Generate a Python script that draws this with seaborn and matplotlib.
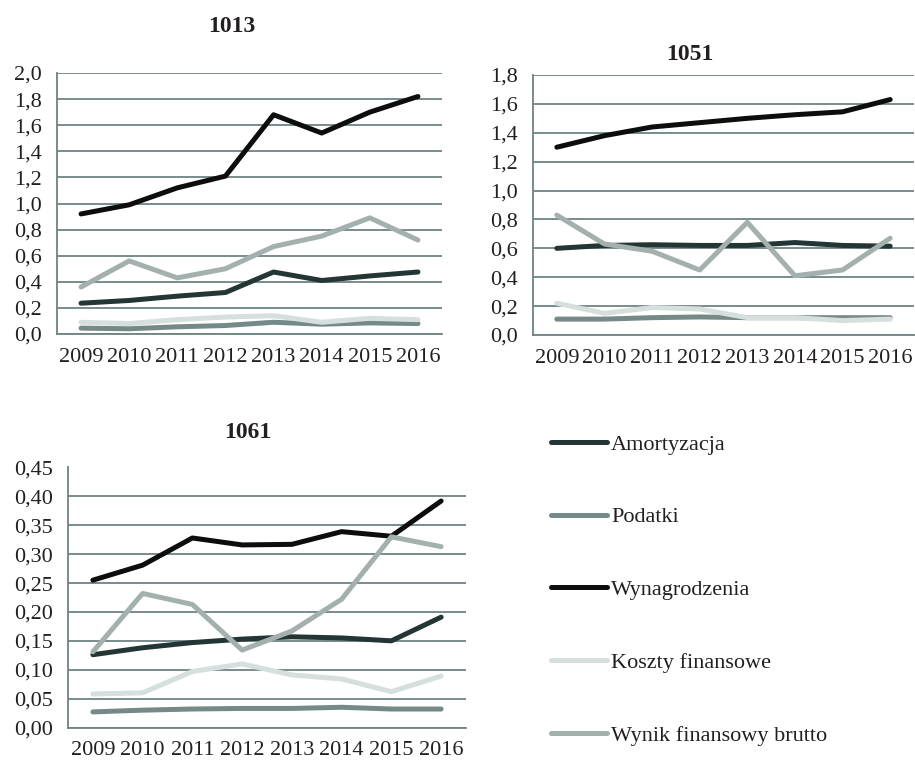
import numpy as np
import pandas as pd
import matplotlib
matplotlib.use('Agg')
import matplotlib.pyplot as plt
import seaborn as sns

# dane
years = ['2009', '2010', '2011', '2012', '2013', '2014', '2015', '2016']
series = ['Amortyzacja', 'Podatki', 'Wynagrodzenia', 'Koszty finansowe', 'Wynik finansowy brutto']
colors = ['#243535', '#758a88', '#0d0d0d', '#d5dfdd', '#a4b0ae']

d1013 = {
    'Amortyzacja': [0.236, 0.257, 0.29, 0.318, 0.475, 0.41, 0.445, 0.475],
    'Podatki': [0.045, 0.04, 0.055, 0.065, 0.09, 0.075, 0.085, 0.08],
    'Wynagrodzenia': [0.92, 0.99, 1.12, 1.21, 1.68, 1.54, 1.70, 1.82],
    'Koszty finansowe': [0.09, 0.08, 0.11, 0.13, 0.14, 0.09, 0.12, 0.11],
    'Wynik finansowy brutto': [0.36, 0.56, 0.43, 0.50, 0.67, 0.75, 0.89, 0.72],
}
d1051 = {
    'Amortyzacja': [0.60, 0.62, 0.625, 0.62, 0.62, 0.64, 0.62, 0.615],
    'Podatki': [0.11, 0.11, 0.12, 0.125, 0.12, 0.12, 0.12, 0.12],
    'Wynagrodzenia': [1.30, 1.38, 1.44, 1.47, 1.50, 1.525, 1.545, 1.63],
    'Koszty finansowe': [0.22, 0.15, 0.19, 0.18, 0.12, 0.12, 0.10, 0.11],
    'Wynik finansowy brutto': [0.83, 0.63, 0.58, 0.45, 0.78, 0.41, 0.45, 0.67],
}
d1061 = {
    'Amortyzacja': [0.126, 0.138, 0.147, 0.153, 0.157, 0.155, 0.150, 0.191],
    'Podatki': [0.027, 0.030, 0.032, 0.033, 0.033, 0.035, 0.032, 0.032],
    'Wynagrodzenia': [0.255, 0.281, 0.328, 0.316, 0.317, 0.339, 0.331, 0.392],
    'Koszty finansowe': [0.058, 0.060, 0.097, 0.110, 0.091, 0.084, 0.062, 0.089],
    'Wynik finansowy brutto': [0.131, 0.232, 0.213, 0.134, 0.167, 0.222, 0.330, 0.313],
}

sns.set_style('white')
plt.rcParams['font.family'] = ['Liberation Serif', 'DejaVu Serif']
grid_c = '#6e8482'
txt_c = '#231f20'
lw = 3.6
fs = 16


def to_long(d):
    rows = []
    for s in series:
        for i, v in enumerate(d[s]):
            rows.append({'x': i, 'y': v, 'seria': s})
    return pd.DataFrame(rows)


def panel(rect, d, ymax, step, fmt, title, title_xy):
    ax = fig.add_axes(rect)
    df = to_long(d)
    sns.lineplot(data=df, x='x', y='y', hue='seria', hue_order=series,
                 palette=colors, linewidth=lw, legend=False, ax=ax,
                 solid_capstyle='round', solid_joinstyle='round')
    ax.set_xlim(-0.5, 7.5)
    ax.set_ylim(0, ymax)
    yt = np.arange(0, ymax + step / 2, step)
    ax.set_yticks(yt)
    ax.set_yticklabels([fmt.format(v).replace('.', ',') for v in yt])
    ax.set_xticks(range(8))
    ax.set_xticklabels(years)
    ax.set_xticks(np.arange(-0.5, 8, 1), minor=True)
    ax.tick_params(axis='x', which='major', length=0, pad=10, labelsize=fs, colors=txt_c)
    ax.tick_params(axis='x', which='minor', length=5, width=1.3, color=grid_c, direction='out')
    ax.tick_params(axis='y', length=5, width=1.3, color=grid_c, labelsize=fs, labelcolor=txt_c, pad=6)
    ax.grid(axis='y', color=grid_c, linewidth=1.3)
    ax.set_axisbelow(True)
    for s in ['top', 'right']:
        ax.spines[s].set_visible(False)
    for s in ['left', 'bottom']:
        ax.spines[s].set_color(grid_c)
        ax.spines[s].set_linewidth(1.3)
    ax.set_xlabel('')
    ax.set_ylabel('')
    fig.text(title_xy[0] / 915, 1 - title_xy[1] / 763, title, ha='center', va='center',
             fontsize=17, fontweight='bold', color=txt_c)
    return ax


fig = plt.figure(figsize=(9.15, 7.63), dpi=100)

panel([57 / 915, 1 - 334 / 763, 385 / 915, 261 / 763], d1013, 2.0, 0.2, '{:.1f}', '1013', (232, 26))
panel([533 / 915, 1 - 335 / 763, 381 / 915, 260 / 763], d1051, 1.8, 0.2, '{:.1f}', '1051', (690, 55))
panel([68 / 915, 1 - 727.5 / 763, 398 / 915, 260 / 763], d1061, 0.45, 0.05, '{:.2f}', '1061', (248, 432))

handles = [plt.Line2D([], [], color=c, linewidth=lw, solid_capstyle='round') for c in colors]
fig.legend(handles, series, loc='upper left', bbox_to_anchor=(551 / 915, 1 - 434 / 763),
           frameon=False, fontsize=fs, handlelength=2.5, handletextpad=0.2,
           labelspacing=2.35, borderpad=0, borderaxespad=0, labelcolor=txt_c)

fig.savefig('out.png', dpi=100)
